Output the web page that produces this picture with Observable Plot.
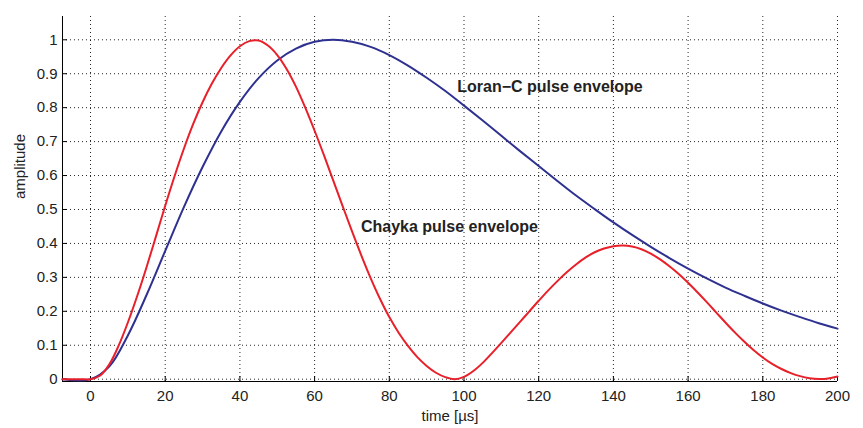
<!DOCTYPE html>
<html>
<head>
<meta charset="utf-8">
<script src="https://cdn.jsdelivr.net/npm/d3@7"></script>
<script src="https://cdn.jsdelivr.net/npm/@observablehq/plot@0.6"></script>
<style>
  body { margin: 0; background: #fff; }
  svg { display: block; }
</style>
</head>
<body>
<div id="chart"></div>
<script>
// Loran-C pulse envelope (time in µs, amplitude)
const loranT = [-7.5, 0, 5, 10, 15, 20, 25, 30, 35, 40, 45, 50, 55, 60, 65, 70, 75, 80, 85, 90, 95, 100, 105, 110, 115, 120, 125, 130, 135, 140, 145, 150, 155, 160, 165, 170, 175, 180, 185, 190, 195, 200];
const loranV = [0, 0, 0.037, 0.129, 0.248, 0.378, 0.507, 0.625, 0.730, 0.817, 0.887, 0.939, 0.974, 0.994, 1.0, 0.994, 0.979, 0.955, 0.924, 0.888, 0.849, 0.806, 0.762, 0.717, 0.672, 0.628, 0.584, 0.541, 0.501, 0.462, 0.425, 0.390, 0.357, 0.326, 0.297, 0.270, 0.246, 0.223, 0.202, 0.183, 0.165, 0.149];

// Chayka pulse envelope (read every 2.5 µs)
const chaykaT = [-7.5, -5, -2.5, 0, 2.5, 5, 7.5, 10, 12.5, 15, 17.5, 20, 22.5, 25, 27.5, 30, 32.5, 35, 37.5, 40, 42.5, 45, 47.5, 50, 52.5, 55, 57.5, 60, 62.5, 65, 67.5, 70, 72.5, 75, 77.5, 80, 82.5, 85, 87.5, 90, 92.5, 95, 97.5, 100, 102.5, 105, 107.5, 110, 112.5, 115, 117.5, 120, 122.5, 125, 127.5, 130, 132.5, 135, 137.5, 140, 142.5, 145, 147.5, 150, 152.5, 155, 157.5, 160, 162.5, 165, 167.5, 170, 172.5, 175, 177.5, 180, 182.5, 185, 187.5, 190, 192.5, 195, 197.5, 200];
const chaykaV = [0, 0, 0, 0, 0.01, 0.043, 0.098, 0.167, 0.245, 0.33, 0.42, 0.511, 0.598, 0.679, 0.752, 0.816, 0.871, 0.917, 0.954, 0.981, 0.996, 0.998, 0.983, 0.955, 0.914, 0.862, 0.8, 0.732, 0.66, 0.585, 0.51, 0.436, 0.365, 0.298, 0.237, 0.183, 0.137, 0.098, 0.065, 0.039, 0.019, 0.006, 0, 0.007, 0.024, 0.048, 0.077, 0.107, 0.138, 0.169, 0.2, 0.231, 0.261, 0.289, 0.315, 0.338, 0.358, 0.374, 0.385, 0.392, 0.394, 0.391, 0.383, 0.37, 0.353, 0.333, 0.31, 0.284, 0.256, 0.227, 0.197, 0.167, 0.138, 0.111, 0.086, 0.064, 0.045, 0.03, 0.018, 0.009, 0.003, 0.0005, 0.002, 0.008];

const xTicks = [0, 20, 40, 60, 80, 100, 120, 140, 160, 180, 200];
const yTicks = [0, 0.1, 0.2, 0.3, 0.4, 0.5, 0.6, 0.7, 0.8, 0.9, 1];
const xDomain = [-7.5, 200];
const yDomain = [-0.0068, 1.0686];

const labels = [
  {text: "Loran\u2212C pulse envelope", x: 98.2, y: 0.861},
  {text: "Chayka pulse envelope", x: 72.4, y: 0.448}
];

const loran = loranT.map((t, i) => ({t, v: loranV[i]}));
const chayka = chaykaT.map((t, i) => ({t, v: chaykaV[i]}));

const FONT = "'Liberation Sans', Arial, Helvetica, sans-serif";
const INK = "#222";
const gridStyle = {stroke: "#000", strokeOpacity: 0.85, strokeWidth: 1, strokeDasharray: "1,3"};

const chart = Plot.plot({
  width: 863,
  height: 428,
  marginLeft: 62,
  marginRight: 26,
  marginTop: 16,
  marginBottom: 47,
  style: {fontFamily: FONT, fontSize: "15px", color: INK, background: "#fff", overflow: "visible"},
  x: {domain: xDomain},
  y: {domain: yDomain},
  marks: [
    Plot.gridX(xTicks, gridStyle),
    Plot.gridY(yTicks, gridStyle),
    // tick labels
    Plot.axisX(xTicks, {tickSize: 0, tickPadding: 9, tickFormat: d3.format("~g"), label: null, fontSize: 15, fill: INK}),
    Plot.axisY(yTicks, {tickSize: 0, tickPadding: 5, tickFormat: d3.format("~g"), label: null, fontSize: 15, fill: INK}),
    // inward tick marks
    Plot.axisX(xTicks, {tickSize: -5, tickFormat: () => "", label: null, stroke: "#000"}),
    Plot.axisY(yTicks, {tickSize: -5, tickFormat: () => "", label: null, stroke: "#000"}),
    // spines
    Plot.ruleX([xDomain[0]], {stroke: "#000", strokeWidth: 1}),
    Plot.ruleY([yDomain[0]], {stroke: "#000", strokeWidth: 1}),
    // curves
    Plot.line(loran, {x: "t", y: "v", stroke: "#2e3190", strokeWidth: 2, curve: "catmull-rom"}),
    Plot.line(chayka, {x: "t", y: "v", stroke: "#e8202a", strokeWidth: 2, curve: "catmull-rom"}),
    // annotations
    Plot.text(labels, {x: "x", y: "y", text: "text", textAnchor: "start", fontWeight: "bold", fontSize: 16, fill: INK, lineAnchor: "middle"}),
    // axis titles
    Plot.text(["time [\u00b5s]"], {frameAnchor: "bottom", dy: 35, fontSize: 15, fill: INK, lineAnchor: "middle"}),
    Plot.text(["amplitude"], {frameAnchor: "left", dx: -42, rotate: -90, fontSize: 15, fill: INK, lineAnchor: "middle"})
  ]
});

document.getElementById("chart").appendChild(chart);
</script>
</body>
</html>
